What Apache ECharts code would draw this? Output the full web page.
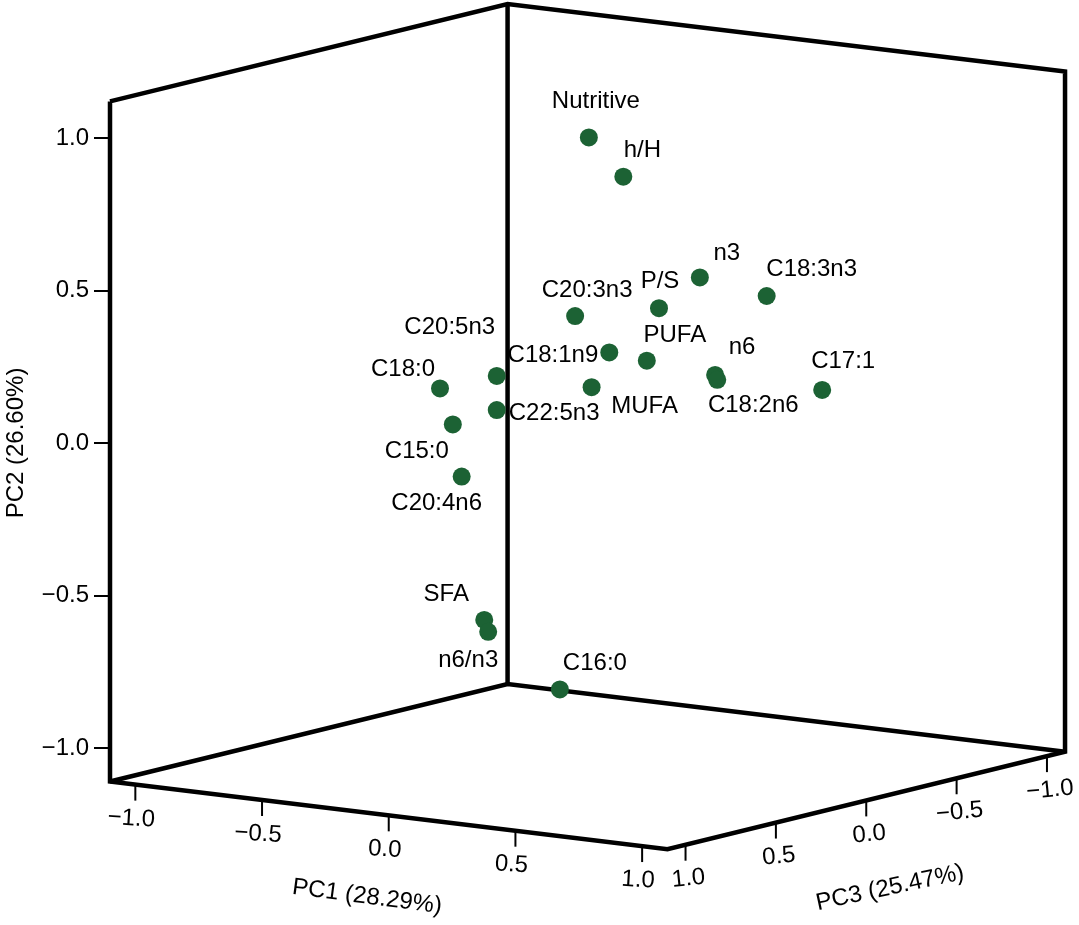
<!DOCTYPE html>
<html>
<head>
<meta charset="utf-8">
<script src="https://cdn.jsdelivr.net/npm/echarts@6/dist/echarts.min.js"></script>
<style>
html, body { margin: 0; padding: 0; background: #fff; }
#main { width: 1079px; height: 925px; }
</style>
</head>
<body>
<div id="main"></div>
<script>
// loadings as they sit in the picture plane, in PC2 units
// (viewX: distance right of the front-left edge, viewY: height read on the PC2 scale)
var names = ['Nutritive', 'h/H', 'n3', 'C18:3n3', 'P/S', 'C20:3n3', 'C20:5n3', 'C18:1n9',
	'PUFA', 'n6', 'C18:2n6', 'C17:1', 'C18:0', 'MUFA', 'C22:5n3', 'C15:0', 'C20:4n6',
	'SFA', 'n6/n3', 'C16:0'];
var viewX = [1.570, 1.683, 1.934, 2.153, 1.800, 1.525, 1.268, 1.637,
	1.760, 1.984, 1.991, 2.335, 1.082, 1.579, 1.268, 1.124, 1.153,
	1.227, 1.240, 1.475];
var viewY = [1.002, 0.873, 0.543, 0.482, 0.442, 0.416, 0.220, 0.297,
	0.270, 0.223, 0.207, 0.174, 0.179, 0.183, 0.108, 0.061, -0.110,
	-0.580, -0.619, -0.808];

var pc1Ticks = [-1.0, -0.5, 0.0, 0.5, 1.0];
var pc2Ticks = [-1.0, -0.5, 0.0, 0.5, 1.0];
var pc3Ticks = [-1.0, -0.5, 0.0, 0.5, 1.0];
var pc1Range = [-1.1, 1.1];
var pc2Range = [-1.11, 1.12];
var pc3Range = [-1.1, 1.1];

// where each label sits relative to its dot (px): [dx, dy, align]
var labelShift = {
	'Nutritive': [7, -36], 'h/H': [19, -26], 'n3': [27, -24], 'C18:3n3': [45, -27],
	'P/S': [1, -27], 'C20:3n3': [12, -26], 'C20:5n3': [-47, -49], 'C18:1n9': [-11, 3, 'right'],
	'PUFA': [28, -25], 'n6': [27, -28], 'C18:2n6': [36, 26], 'C17:1': [21, -29],
	'C18:0': [-37, -19], 'MUFA': [53, 19], 'C22:5n3': [12, 3, 'left'], 'C15:0': [-36, 27],
	'C20:4n6': [-25, 27], 'SFA': [-38, -26], 'n6/n3': [-20, 29], 'C16:0': [35, -26]
};

var FAMILY = '"Liberation Sans", Arial, sans-serif';
var FONT = '24px ' + FAMILY;

// oblique projection of (PC1, PC2, PC3) into the picture plane
function proj(p1, p2, p3) {
	var a = p1 - pc1Range[0];
	var c = p3 - pc3Range[1];
	return [0.8308 * a - 0.5925 * c, p2 - 0.1007 * a - 0.1452 * c];
}

function fmt(v) {
	return (v < 0 ? '\u2212' : '') + Math.abs(v).toFixed(1);
}

var lo1 = pc1Range[0], hi1 = pc1Range[1];
var lo2 = pc2Range[0], hi2 = pc2Range[1];
var lo3 = pc3Range[0], hi3 = pc3Range[1];
var Lb = proj(lo1, lo2, hi3), Lt = proj(lo1, hi2, hi3);
var Bb = proj(lo1, lo2, lo3), Bt = proj(lo1, hi2, lo3);
var Rb = proj(hi1, lo2, lo3), Rt = proj(hi1, hi2, lo3);
var Fb = proj(hi1, lo2, hi3);

function edge(pts) {
	return {
		type: 'line',
		data: pts,
		symbol: 'none',
		clip: false,
		silent: true,
		z: 2,
		lineStyle: { color: '#000', width: 4.5, join: 'miter' }
	};
}

function tickSeries(data, dx, rot) {
	return {
		type: 'custom',
		clip: false,
		silent: true,
		z: 2,
		data: data,
		renderItem: function (params, api) {
			var p = api.coord([api.value(0), api.value(1)]);
			return {
				type: 'group',
				children: [{
					type: 'line',
					shape: { x1: p[0], y1: p[1], x2: p[0], y2: p[1] + 16 },
					style: { stroke: '#000', lineWidth: 2 }
				}, {
					type: 'text',
					x: p[0] + dx,
					y: p[1] + 34,
					rotation: rot,
					style: {
						text: fmt(api.value(2)),
						fill: '#000',
						font: FONT,
						align: 'center',
						verticalAlign: 'middle'
					}
				}]
			};
		}
	};
}

var pc1Data = pc1Ticks.map(function (v) { return proj(v, lo2, hi3).concat([v]); });
var pc3Data = pc3Ticks.map(function (v) { return proj(hi1, lo2, v).concat([v]); });

var points = [];
for (var i = 0; i < names.length; i++) {
	points.push({ name: names[i], value: [viewX[i], viewY[i]] });
}

var option = {
	animation: false,
	backgroundColor: '#fff',
	grid: { left: 110, right: 8.25, top: 0.75, bottom: 9.25 },
	xAxis: { type: 'value', min: 0, max: 3.15, show: false },
	yAxis: {
		type: 'value',
		min: -1.55,
		max: 1.45,
		axisLine: { show: false },
		splitLine: { show: false },
		axisTick: {
			show: true,
			customValues: pc2Ticks,
			length: 16,
			lineStyle: { color: '#000', width: 2 }
		},
		axisLabel: {
			customValues: pc2Ticks,
			formatter: fmt,
			margin: 21,
			color: '#000',
			fontFamily: FAMILY,
			fontSize: 24
		}
	},
	graphic: [
		{ type: 'text', x: 16, y: 443, rotation: Math.PI / 2,
			style: { text: 'PC2 (26.60%)', font: FONT, fill: '#000', align: 'center', verticalAlign: 'middle' } },
		{ type: 'text', x: 367, y: 897, rotation: -0.13,
			style: { text: 'PC1 (28.29%)', font: FONT, fill: '#000', align: 'center', verticalAlign: 'middle' } },
		{ type: 'text', x: 890, y: 888, rotation: 0.21,
			style: { text: 'PC3 (25.47%)', font: FONT, fill: '#000', align: 'center', verticalAlign: 'middle' } }
	],
	series: [
		edge([Lt, Lb, Fb, Rb, Rt, Bt, Lt]),
		edge([Lb, Bb, Rb]),
		edge([Bb, Bt]),
		tickSeries(pc1Data, -4, -0.06),
		tickSeries(pc3Data, 3, 0.1),
		{
			type: 'scatter',
			data: points,
			symbolSize: 18,
			clip: false,
			z: 5,
			itemStyle: { color: '#1c6234', opacity: 1 },
			label: {
				show: true,
				position: 'inside',
				formatter: '{b}',
				color: '#000',
				fontFamily: FAMILY,
				fontSize: 24
			},
			labelLayout: function (params) {
				var s = labelShift[names[params.dataIndex]];
				var r = { dx: s[0], dy: s[1], hideOverlap: false };
				if (s[2]) r.align = s[2];
				return r;
			}
		}
	]
};

var myChart = echarts.init(document.getElementById('main'));
myChart.setOption(option);
</script>
</body>
</html>
